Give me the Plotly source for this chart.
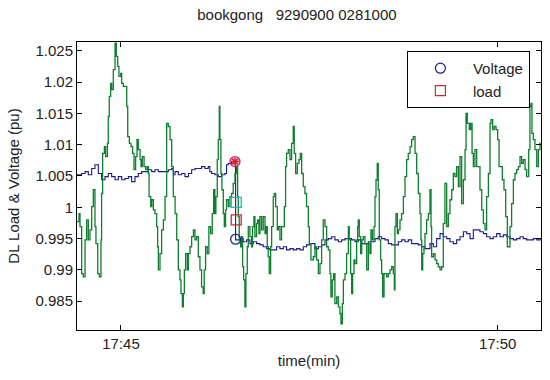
import plotly.graph_objects as go

# ---- data (time in seconds relative to 17:45:00, values in pu) ----
load_t = [-35.0, -33.4, -32.6, -31.3, -30.0, -28.6, -27.3, -26.0, -24.7, -23.3, -22.0, -20.7, -19.9, -18.5,
          -17.2, -15.9, -15.4, -14.6, -13.2, -12.2, -10.8, -10.1, -9.3, -8.2, -7.4, -6.1, -4.7, -3.7, -2.6,
          -1.6, -0.2, 0.6, 1.9, 3.2, 4.6, 5.4, 6.7, 8.0, 9.3, 10.4, 11.7, 12.8, 13.8, 15.2, 16.0, 17.0, 18.4,
          19.7, 21.0, 21.8, 22.4, 23.7, 24.5, 25.8, 27.1, 28.4, 29.2, 29.8, 31.1, 32.4, 33.8, 35.1, 36.4,
          37.7, 39.1, 40.4, 41.7, 43.1, 44.4, 45.7, 47.0, 47.8, 48.9, 49.7, 50.5, 51.5, 52.9, 53.7, 55.0,
          56.3, 57.7,
          58.9, 60.2, 61.6, 62.9, 64.2, 65.5, 66.3, 67.4, 68.7, 70.0, 71.4, 72.7, 73.8, 74.8, 75.6, 76.7,
          77.5, 78.3, 78.8, 79.6, 80.4, 81.5, 82.3, 83.3, 84.1, 85.5, 86.8, 88.1, 89.4, 90.8, 92.1, 92.9,
          93.4, 94.2, 95.3, 96.1, 96.9, 97.7, 98.7, 99.5, 100.6, 101.4, 102.7, 104.0, 104.8, 105.9, 106.7,
          108.0, 108.8, 109.9, 110.7, 112.0, 113.3, 114.7, 115.5, 116.5, 117.3, 118.1, 119.2, 120.0, 121.3,
          122.1, 123.2, 124.5, 125.3, 126.6, 127.9, 129.3, 130.1, 131.1, 131.9, 133.2, 134.6, 135.9, 137.2,
          138.0, 139.1, 140.4, 141.7, 142.8, 143.9, 145.2, 146.5, 147.8, 149.2, 150.0, 151.3, 153.2,
          154.5, 155.8, 157.2, 158.5, 159.8, 161.1, 162.5, 163.8, 165.1, 166.4, 167.2, 168.3, 169.4, 170.4,
          171.8, 173.1, 174.4, 175.2, 176.3, 177.1, 178.4, 179.7, 181.1, 181.8, 182.9, 183.7, 184.5, 185.6,
          186.4, 187.7, 188.5, 189.0, 189.8, 190.9, 191.7, 193.0, 194.3, 195.7, 197.0, 198.3, 199.1, 200.2,
          201.5, 202.3, 203.1, 204.1, 204.9, 205.7, 206.8, 207.6, 208.4, 209.5, 210.3, 211.6, 212.9, 214.2,
          215.6, 216.9, 217.7, 218.2, 219.0, 220.1, 220.9, 222.2, 223.5, 224.9, 226.2, 227.5, 228.8, 230.2,
          231.5, 232.8, 234.2, 235.5, 236.8, 238.1, 238.9, 239.5, 240.3, 241.3, 242.1, 243.4, 244.8,
          246.1, 246.9, 247.4, 248.8, 250.1, 251.4, 252.7, 254.1, 255.4, 256.7, 258.0, 259.4, 260.7, 262.0,
          263.4, 264.7, 266.0, 267.3, 268.7, 270.0, 271.3, 272.7, 274.0, 274.8, 275.8, 277.4, 278.5, 279.6,
          280.6, 281.9, 283.3, 284.6, 285.9, 287.3, 288.6, 289.9, 291.2, 292.6, 293.9, 294.7, 296.0, 297.3,
          298.7, 300.0, 301.1, 302.4, 303.7, 305.0, 306.4, 307.7, 309.0, 309.8, 311.1, 312.5, 313.8, 315.1,
          316.5, 317.8, 319.1, 320.4, 321.8, 323.1, 323.9, 324.7, 325.7, 326.5, 327.3, 328.4, 329.7, 331.1,
          332.4, 333.7, 335.0]
load_v = [0.9977, 0.9990, 0.9969, 0.9894, 0.9889, 0.9948, 0.9980, 0.9948, 0.9964, 1.0001, 1.0028, 0.9969,
          0.9942, 0.9894, 0.9889, 0.9948, 1.0022, 1.0086, 1.0097, 1.0081, 1.0102, 1.0145, 1.0177, 1.0198,
          1.0188, 1.0220, 1.0262, 1.0241, 1.0225, 1.0209, 1.0214, 1.0198, 1.0193, 1.0193, 1.0161, 1.0113,
          1.0102, 1.0097, 1.0086, 1.0060, 1.0081, 1.0108, 1.0092, 1.0076, 1.0065, 1.0081, 1.0065, 1.0060,
          1.0065, 1.0054, 1.0017, 1.0001, 1.0012, 0.9996, 0.9990, 0.9969, 0.9937, 0.9900, 0.9926, 0.9964,
          0.9980, 1.0017, 1.0134, 1.0129, 1.0108, 1.0065, 1.0017, 0.9990, 0.9948, 0.9900, 0.9884, 0.9862,
          0.9841, 0.9862, 0.9900, 0.9926, 0.9900, 0.9926, 0.9937, 0.9953, 0.9964,
          0.9948, 0.9953, 0.9921, 0.9900, 0.9873, 0.9862, 0.9900, 0.9937, 0.9926, 0.9969, 0.9958, 0.9990,
          1.0028, 0.9990, 1.0017, 1.0076, 1.0108, 1.0161, 1.0108, 1.0054, 1.0028, 0.9990, 0.9969, 0.9996,
          1.0012, 1.0001, 1.0017, 1.0022, 1.0038, 1.0054, 1.0065, 1.0017, 0.9985, 0.9948, 0.9937, 0.9953,
          0.9905, 0.9884, 0.9841, 0.9894, 0.9937, 0.9969, 0.9953, 0.9937, 0.9969, 0.9985, 0.9953, 0.9974,
          0.9980, 0.9958, 0.9985, 0.9964, 0.9985, 0.9958, 0.9969, 0.9937, 0.9921, 0.9894, 0.9937, 0.9969,
          1.0017, 1.0022, 1.0001, 0.9964, 0.9969, 0.9948, 0.9969, 0.9969, 1.0001, 1.0065, 1.0086, 1.0092,
          1.0076, 1.0102, 1.0129, 1.0086, 1.0054, 1.0070, 1.0076, 1.0086, 1.0054, 1.0033, 1.0022, 1.0001,
          0.9969, 0.9942, 0.9916, 0.9921,
          0.9937, 0.9916, 0.9894, 0.9910, 0.9948, 0.9980, 0.9969, 0.9937, 0.9932, 0.9894, 0.9857, 0.9884,
          0.9894, 0.9846, 0.9857, 0.9841, 0.9830, 0.9814, 0.9846, 0.9884, 0.9894, 0.9926, 0.9969, 0.9948,
          0.9894, 0.9862, 0.9894, 0.9916, 0.9910, 0.9948, 0.9969, 0.9980, 0.9953, 0.9926, 0.9948, 0.9953,
          0.9942, 0.9900, 0.9942, 0.9926, 0.9964, 0.9948, 0.9969, 1.0017, 1.0044, 1.0070, 1.0028, 0.9948,
          0.9916, 0.9894, 0.9857, 0.9894, 0.9894, 0.9889, 0.9894, 0.9900, 0.9905, 0.9894, 0.9868, 0.9969,
          0.9990, 0.9958, 0.9964, 0.9980, 0.9990, 1.0017, 1.0049, 1.0076, 1.0086, 1.0097, 1.0108, 1.0113,
          1.0086, 1.0054, 1.0022, 0.9990, 0.9948, 0.9900, 0.9926, 0.9937, 0.9958, 0.9980, 0.9990,
          1.0028, 0.9969, 0.9921, 0.9926, 0.9916, 0.9910, 0.9905, 0.9900, 0.9905, 0.9974, 1.0038, 0.9969,
          0.9990, 1.0012, 1.0028, 1.0054, 1.0049, 1.0065, 1.0033, 1.0081, 1.0006, 1.0044, 1.0092, 1.0150,
          1.0134, 1.0124, 1.0134, 1.0086, 1.0065, 1.0092, 1.0065, 1.0065, 1.0028, 0.9996, 0.9974, 0.9964,
          1.0017, 1.0054, 1.0134, 1.0140, 1.0124, 1.0129, 1.0124, 1.0108, 1.0065, 1.0065, 1.0044, 1.0028,
          0.9985, 0.9937, 0.9937, 0.9969, 1.0006, 1.0044, 1.0054, 1.0060, 1.0065, 1.0081, 1.0070, 1.0076,
          1.0060, 1.0049, 1.0049, 1.0092, 1.0161, 1.0166, 1.0118, 1.0108, 1.0092, 1.0065, 1.0092, 1.0102,
          1.0102]

volt_t = [-35.0, -31.3, -28.6, -26.0, -23.3, -20.7, -18.0, -15.4, -12.7, -10.1, -7.4, -4.7, -2.1, 0.6, 3.2,
          5.9, 8.5, 11.2, 13.8, 16.5, 19.2, 21.8, 24.5, 27.1, 29.8, 32.4, 35.1, 37.7, 40.4, 41.7, 43.1, 45.7,
          48.4, 51.0, 53.7, 56.3, 58.9, 61.6, 64.2, 66.9, 69.5, 70.8, 72.2, 74.8, 77.5, 80.1, 82.8, 84.1,
          85.5, 88.1, 90.8, 91.3, 94.7, 97.4, 100.1, 102.7, 105.4, 108.0, 110.7, 113.3, 116.0, 118.6,
          121.3, 123.9, 126.6, 129.3, 131.9, 134.6, 137.2, 139.9, 142.5, 145.2, 147.8, 150.5, 154.5, 157.2,
          159.8, 162.5, 165.1, 167.8, 170.4, 173.1, 175.7, 178.4, 181.1, 183.7, 186.4, 189.0, 191.7, 194.3,
          197.0, 199.6, 202.3, 204.9, 207.6, 210.3, 212.9, 215.6, 218.2, 220.9, 223.5, 226.2, 228.8, 231.5,
          234.2, 236.8, 239.5, 242.1, 244.8, 246.1, 248.8, 251.4, 254.1, 256.7, 259.4, 262.0, 264.7, 267.3,
          270.0, 272.7, 275.3, 278.0, 280.6, 283.3, 285.9, 288.6, 291.2, 293.9, 296.5, 299.2, 301.9, 304.5,
          307.2, 309.8, 312.5, 315.1, 317.8, 320.4, 323.1, 325.7, 328.4, 331.1, 333.7, 335.0]
volt_v = [1.0052, 1.0054, 1.0057, 1.0052, 1.0062, 1.0068, 1.0054, 1.0044, 1.0049, 1.0054, 1.0049, 1.0044,
          1.0049, 1.0044, 1.0046, 1.0049, 1.0041, 1.0049, 1.0054, 1.0057, 1.0057, 1.0060, 1.0057, 1.0060,
          1.0057, 1.0057, 1.0057, 1.0060, 1.0062, 1.0052, 1.0057, 1.0052, 1.0054, 1.0049, 1.0054, 1.0060,
          1.0062, 1.0062, 1.0065, 1.0062, 1.0065, 1.0057, 1.0054, 1.0052, 1.0049, 1.0052, 1.0054, 1.0068,
          1.0070, 1.0073, 1.0073, 0.9948, 0.9950, 0.9945, 0.9948, 0.9942, 0.9945, 0.9942, 0.9940, 0.9937,
          0.9934, 0.9932, 0.9932, 0.9937, 0.9934, 0.9937, 0.9932, 0.9934, 0.9932, 0.9934, 0.9932, 0.9937,
          0.9940, 0.9942, 0.9934, 0.9937, 0.9940, 0.9948, 0.9950, 0.9953, 0.9948, 0.9945, 0.9948, 0.9950,
          0.9950, 0.9948, 0.9945, 0.9948, 0.9942, 0.9942, 0.9945, 0.9945, 0.9950, 0.9953, 0.9950, 0.9948,
          0.9942, 0.9940, 0.9940, 0.9945, 0.9948, 0.9945, 0.9948, 0.9942, 0.9942, 0.9940, 0.9937, 0.9934,
          0.9934, 0.9942, 0.9937, 0.9950, 0.9958, 0.9953, 0.9950, 0.9945, 0.9942, 0.9948, 0.9953, 0.9961,
          0.9958, 0.9950, 0.9964, 0.9964, 0.9961, 0.9958, 0.9953, 0.9950, 0.9953, 0.9958, 0.9953, 0.9956,
          0.9953, 0.9950, 0.9948, 0.9950, 0.9953, 0.9950, 0.9948, 0.9948, 0.9950, 0.9948, 0.9948, 0.9948]

# event markers at the switching instant
event_t = [90.8, 91.3, 91.8, 91.8]
event_v = [1.0073, 0.9949, 1.0008, 0.9980]
event_sym = ["circle-open", "circle-open", "square-open", "square-open"]
event_col = ["#B0209A", "#1F1FA0", "#22B8B0", "#C03030"]

tick_vals_y = [0.985, 0.99, 0.995, 1.0, 1.005, 1.01, 1.015, 1.02, 1.025]
tick_text_y = ["0.985", "0.99", "0.995", "1", "1.005", "1.01", "1.015", "1.02", "1.025"]
tick_vals_x = [0, 300]
tick_text_x = ["17:45", "17:50"]

GREEN = "#0E7F2C"
NAVY = "#1A1A8C"
FONT = "Liberation Sans, Arial, sans-serif"

fig = go.Figure()
fig.add_trace(go.Scatter(x=volt_t, y=volt_v, mode="lines", showlegend=False,
                         line=dict(color=NAVY, width=1.1, shape="hv")))
fig.add_trace(go.Scatter(x=load_t, y=load_v, mode="lines", showlegend=False,
                         line=dict(color=GREEN, width=1.3, shape="hv")))
fig.add_trace(go.Scatter(x=event_t, y=event_v, mode="markers", showlegend=False,
                         marker=dict(symbol=event_sym, color=event_col, size=10,
                                     line=dict(width=1.3, color=event_col))))
fig.add_trace(go.Scatter(x=event_t[:1], y=event_v[:1], mode="markers", showlegend=False,
                         marker=dict(symbol="asterisk-open", color="#E02020", size=7,
                                     line=dict(width=1.5, color="#E02020"))))
# legend entries
fig.add_trace(go.Scatter(x=[None], y=[None], mode="markers", name="Voltage",
                         marker=dict(symbol="circle-open", color=NAVY, size=10, line=dict(width=1.2))))
fig.add_trace(go.Scatter(x=[None], y=[None], mode="markers", name="load",
                         marker=dict(symbol="square-open", color="#C03030", size=10, line=dict(width=1.2))))

axis_common = dict(showline=True, linecolor="black", linewidth=1, mirror="ticks",
                   ticks="inside", ticklen=5, tickcolor="black", showgrid=False, zeroline=False,
                   tickfont=dict(family=FONT, size=15, color="#222"))

fig.update_layout(
    width=550, height=380,
    margin=dict(l=77, r=9, t=42, b=50),
    paper_bgcolor="white", plot_bgcolor="white",
    font=dict(family=FONT, size=15, color="#222"),
    title=dict(text="bookgong\u00a0\u00a0\u00a09290900 0281000", x=0.474, xref="paper", xanchor="center",
               y=1 - 15 / 380, yref="container", yanchor="middle",
               font=dict(family=FONT, size=15, color="#222")),
    xaxis=dict(range=[-35, 334.5], tickvals=tick_vals_x, ticktext=tick_text_x,
               title=dict(text="time(min)", standoff=4, font=dict(family=FONT, size=15)), **axis_common),
    yaxis=dict(range=[0.9804, 1.0264], tickvals=tick_vals_y, ticktext=tick_text_y,
               title=dict(text="DL Load & Voltage (pu)", standoff=12, font=dict(family=FONT, size=15)),
               **axis_common),
    legend=dict(x=0.711, y=0.969, xanchor="left", yanchor="top", bgcolor="white",
                bordercolor="black", borderwidth=1, font=dict(family=FONT, size=15, color="#222"),
                itemwidth=55),
)

fig.write_html("out.html", config={"displayModeBar": False},
               post_script="document.body.style.margin='0';")
